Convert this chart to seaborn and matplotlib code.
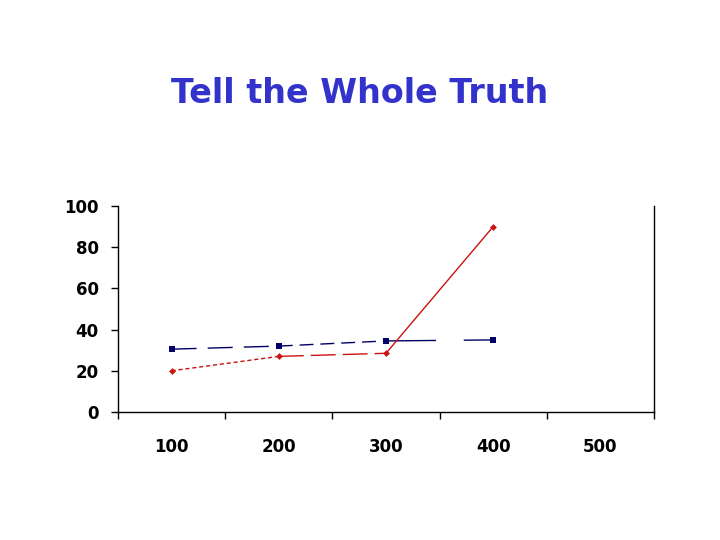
import numpy as np
import pandas as pd
import matplotlib
matplotlib.use("Agg")
import matplotlib.pyplot as plt
import seaborn as sns

# data
categories = ["100", "200", "300", "400", "500"]
blue_values = [30.5, 32, 34.5, 35]
red_values = [20, 27, 28.5, 90]
y_ticks = [0, 20, 40, 60, 80, 100]

BLUE = "#000066"
RED = "#cc1111"
TITLE_BLUE = "#3333cc"

# each segment has its own dash pattern in the original
blue_dashes = [(18, 8), (10, 5), (36, 20)]
red_dashes = [(3, 2), (18, 5), None]

sns.set_style("white")
plt.rcParams["font.family"] = ["DejaVu Sans"]
plt.rcParams["text.color"] = "black"
plt.rcParams["xtick.color"] = "black"
plt.rcParams["ytick.color"] = "black"

fig = plt.figure(figsize=(7.2, 5.4), dpi=100)
ax = fig.add_axes([118 / 720, 1 - 412 / 540, 536 / 720, 206 / 540])

xs = np.arange(len(blue_values))
df_blue = pd.DataFrame({"x": xs, "y": blue_values})
df_red = pd.DataFrame({"x": xs, "y": red_values})


def draw_segments(df, color, dashes):
    for i, d in enumerate(dashes):
        seg = df.iloc[i:i + 2]
        ls = "-" if d is None else (0, d)
        sns.lineplot(data=seg, x="x", y="y", ax=ax, color=color,
                     linewidth=1.0, estimator=None, sort=False,
                     linestyle=ls)


draw_segments(df_blue, BLUE, blue_dashes)
draw_segments(df_red, RED, red_dashes)

sns.scatterplot(data=df_blue, x="x", y="y", ax=ax, color=BLUE, marker="s",
                s=14, edgecolor=BLUE, linewidth=0, zorder=5)
sns.scatterplot(data=df_red, x="x", y="y", ax=ax, color=RED, marker="D",
                s=12, edgecolor=RED, linewidth=0, zorder=5)

ax.set_xlim(-0.5, len(categories) - 0.5)
ax.set_ylim(0, 100)

ax.set_xticks(np.arange(len(categories)))
ax.set_xticklabels(categories)
ax.set_xticks(np.arange(len(categories) + 1) - 0.5, minor=True)
ax.tick_params(axis="x", which="major", length=0, pad=19,
               labelsize=12, labelcolor="black")
ax.tick_params(axis="x", which="minor", length=5, width=1, direction="out",
               color="black", bottom=True)
ax.set_yticks(y_ticks)
ax.tick_params(axis="y", length=5, width=1, direction="out", pad=9,
               labelsize=12, color="black", labelcolor="black", left=True)
for t in ax.get_xticklabels() + ax.get_yticklabels():
    t.set_fontweight("bold")

ax.set_xlabel("")
ax.set_ylabel("")
for side in ["left", "bottom", "right"]:
    ax.spines[side].set_visible(True)
    ax.spines[side].set_color("black")
    ax.spines[side].set_linewidth(1.0)
ax.spines["top"].set_visible(False)

fig.text(360 / 720, 1 - 93 / 540, "Tell the Whole Truth", ha="center",
         va="center", fontsize=24, fontweight="bold", color=TITLE_BLUE)

fig.savefig("out.png", dpi=100)
